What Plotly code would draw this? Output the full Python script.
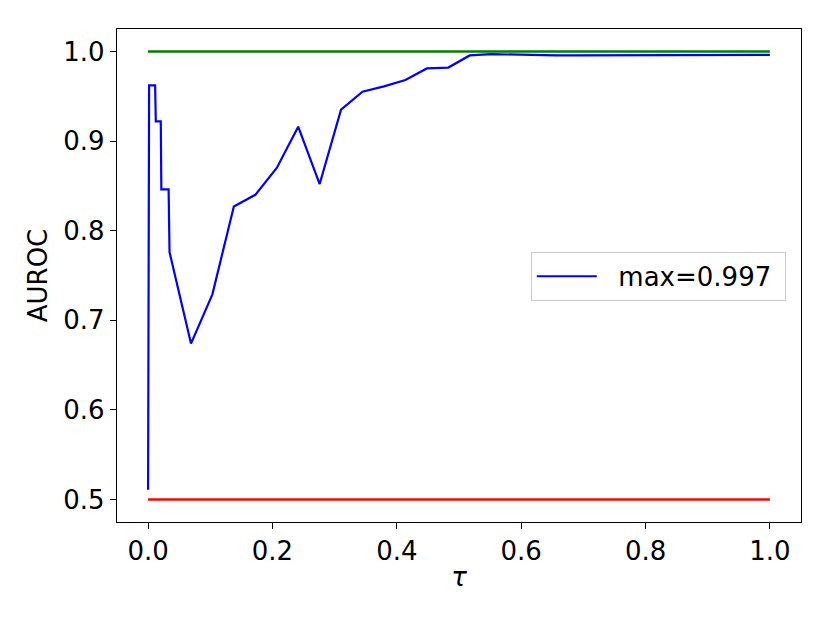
import plotly.graph_objects as go

# threshold tau and AUROC values
tau = [0.0, 0.0016, 0.0113, 0.0124, 0.0204, 0.0213, 0.0330, 0.0345,
       0.0690, 0.1034, 0.1379, 0.1724, 0.2069, 0.2414, 0.2759, 0.3103,
       0.3448, 0.3793, 0.4138, 0.4483, 0.4828, 0.5172, 0.5517, 0.5862,
       0.6207, 0.6552, 0.6897, 0.7241, 0.7586, 0.7931, 0.8276, 0.8621,
       0.8966, 0.9310, 0.9655, 1.0]
auroc = [0.511, 0.962, 0.962, 0.922, 0.922, 0.846, 0.846, 0.776,
         0.674, 0.729, 0.827, 0.840, 0.870, 0.916, 0.852, 0.935,
         0.955, 0.961, 0.968, 0.981, 0.982, 0.9955, 0.997, 0.9965,
         0.9955, 0.9955, 0.9955, 0.9955, 0.9962, 0.9962, 0.9962, 0.9962,
         0.9962, 0.9962, 0.9962, 0.9962]

ref_x = [0.0, 1.0]
upper = [1.0, 1.0]
lower = [0.5, 0.5]

FONT = "DejaVu Sans"
NBSP = "\u00a0"

fig = go.Figure()
fig.add_trace(go.Scatter(x=ref_x, y=upper, mode="lines", line=dict(color="green", width=2.5),
                         showlegend=False))
fig.add_trace(go.Scatter(x=ref_x, y=lower, mode="lines", line=dict(color="red", width=2.5),
                         showlegend=False))
fig.add_trace(go.Scatter(x=tau, y=auroc, mode="lines", line=dict(color="blue", width=2.2),
                         name=NBSP * 2 + "max=%.3f" % max(auroc) + NBSP))

axis_common = dict(showline=True, mirror=True, linecolor="black", linewidth=1.3,
                   ticks="outside", ticklen=6, tickwidth=1.3, tickcolor="black",
                   showgrid=False, zeroline=False, tickfont=dict(size=26, color="black"),
                   tickformat=".1f")

fig.update_xaxes(range=[-0.05, 1.05], dtick=0.2, tick0=0,
                 title=dict(text="<i>τ</i>", font=dict(size=26, color="black"), standoff=2),
                 **axis_common)
fig.update_yaxes(range=[0.475, 1.025], dtick=0.1, tick0=0.5,
                 title=dict(text="AUROC", font=dict(size=26, color="black"), standoff=8),
                 **axis_common)

# page body adds an 8px offset, so margins are shifted to compensate
fig.update_layout(
    width=830, height=623,
    margin=dict(l=109, r=37, t=21, b=109),
    plot_bgcolor="white", paper_bgcolor="white",
    font=dict(family=FONT, color="black"),
    legend=dict(x=0.605, y=0.548, xanchor="left", yanchor="top",
                bgcolor="white", bordercolor="#cccccc", borderwidth=1,
                font=dict(size=26), itemwidth=60),
)

fig.write_html("out.html")
